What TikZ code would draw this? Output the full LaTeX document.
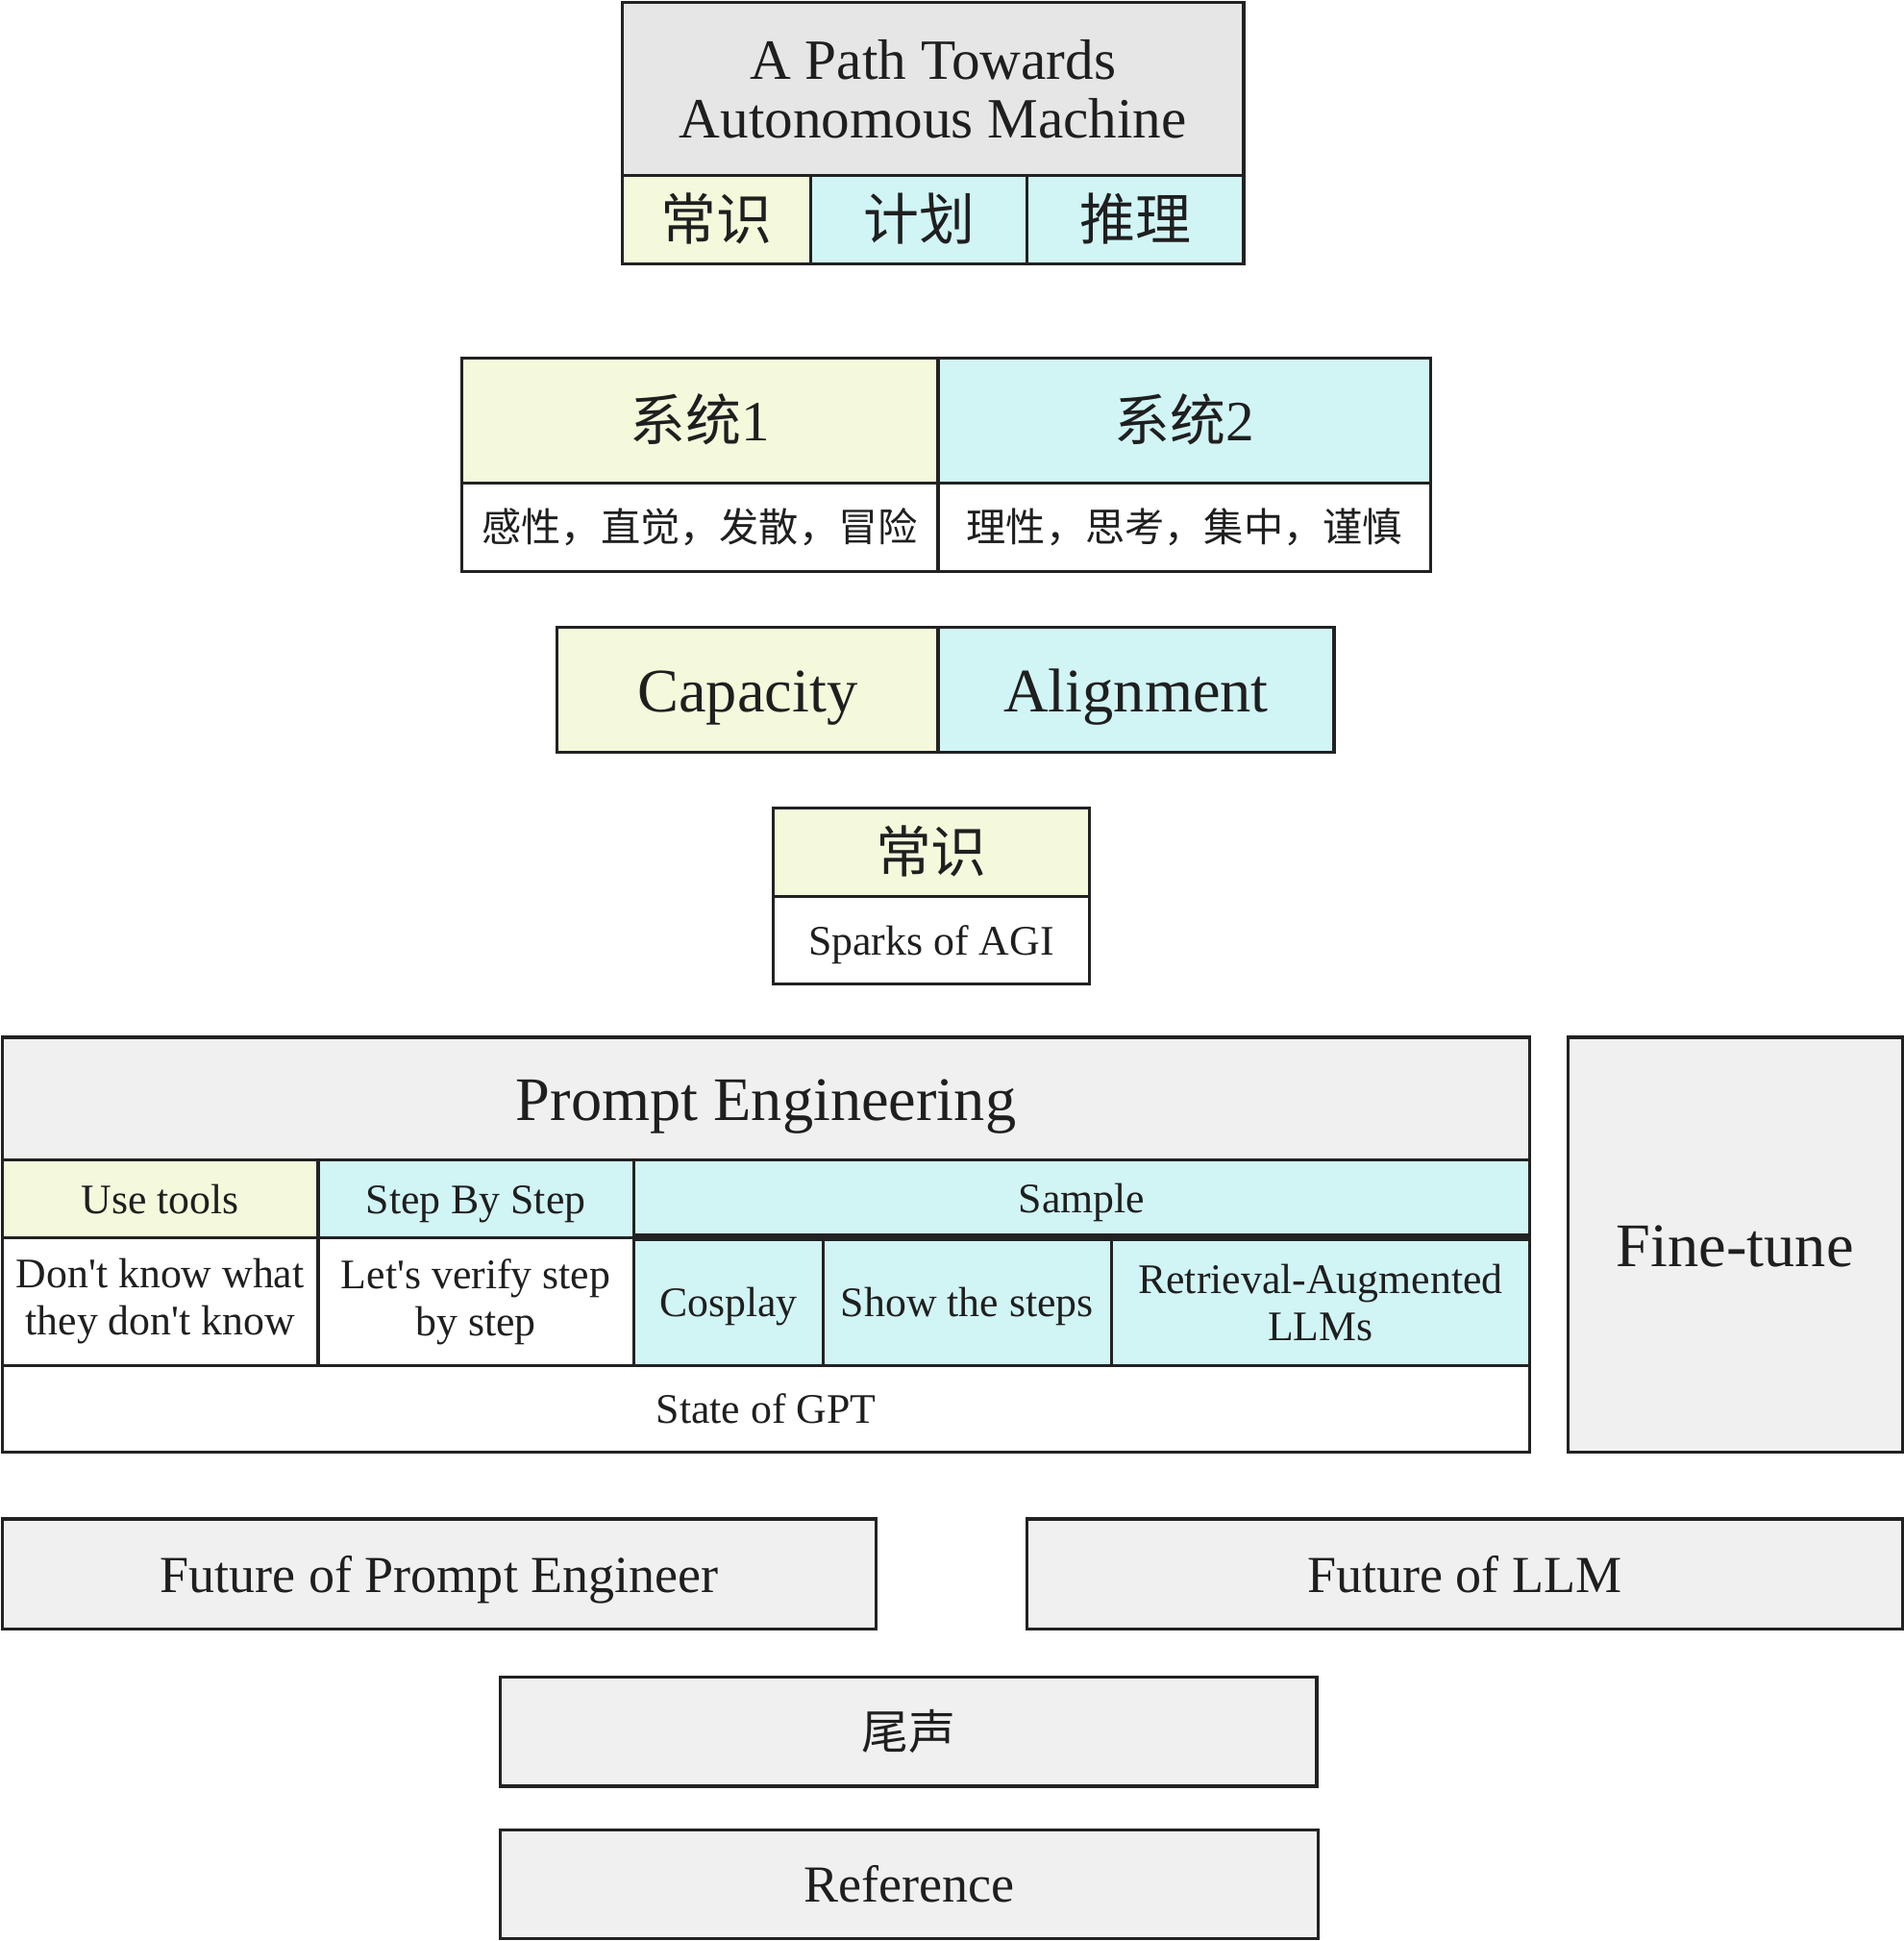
\documentclass[tikz,border=0pt]{standalone}
\usepackage{fontspec}
\setmainfont{Liberation Serif}
\newfontfamily\cjk{Noto Sans CJK SC}
\definecolor{bd}{HTML}{222222}
\definecolor{ylw}{HTML}{F5F9DC}
\definecolor{cyn}{HTML}{D1F4F5}
\definecolor{grA}{HTML}{E6E6E6}
\definecolor{grB}{HTML}{F0F0F0}
\newcommand\cellbox[7]{%
  \pgfmathsetmacro\cx{(#2+#4)/2}%
  \pgfmathsetmacro\cy{(#3+#5)/2}%
  \pgfmathsetmacro\cw{#4-#2}%
  \pgfmathsetmacro\ch{#5-#3}%
  \node[cellbx,#6,minimum width=\cw pt,minimum height=\ch pt] (#1) at (\cx,\cy) {#7};}
\begin{document}
\begin{tikzpicture}[x=1pt,y=-1pt,
  cellbx/.style={draw=bd,line width=2.5pt,inner sep=0pt,text=black!88},
  multi/.style={align=center},
  fSmall/.style={font=\fontsize{34}{38}\selectfont},
  fTitle/.style={font=\fontsize{46}{48}\selectfont},
  sSmall/.style={font=\fontsize{34}{38}\selectfont,text height=30.6pt,text depth=6.8pt},
  sMid/.style={font=\fontsize{42}{46}\selectfont,text height=37.8pt,text depth=8.4pt},
  sLarge/.style={font=\fontsize{50}{56}\selectfont,text height=45pt,text depth=10pt},
  cSmall/.style={font=\cjk\fontsize{32}{36}\selectfont,text height=28.2pt,text depth=4.6pt},
  cMid/.style={font=\cjk\fontsize{38}{42}\selectfont,text height=33.4pt,text depth=5.6pt},
  cLarge/.style={font=\cjk\fontsize{45}{50}\selectfont,text height=39.6pt,text depth=6.6pt},
  fillY/.style={fill=ylw}, fillC/.style={fill=cyn}, fillW/.style={fill=white},
  fillGA/.style={fill=grA}, fillGB/.style={fill=grB}]
\useasboundingbox (0,0) rectangle (1538,1568);
% top block
\cellbox{title}{503}{2}{1005}{142}{fillGA,fTitle,multi}{A Path Towards\\Autonomous Machine}
\cellbox{tA}{503}{142}{655}{213}{fillY,cLarge}{常识}
\cellbox{tB}{655}{142}{830}{213}{fillC,cLarge}{计划}
\cellbox{tC}{830}{142}{1005}{213}{fillC,cLarge}{推理}
% systems
\cellbox{sysA}{373}{289}{758}{390}{fillY,cLarge}{系统{\rmfamily\fontsize{46}{50}\selectfont 1}}
\cellbox{sysB}{758}{289}{1156}{390}{fillC,cLarge}{系统{\rmfamily\fontsize{46}{50}\selectfont 2}}
\cellbox{sysAd}{373}{390}{758}{462}{fillW,cSmall}{感性，直觉，发散，冒险}
\cellbox{sysBd}{758}{390}{1156}{462}{fillW,cSmall}{理性，思考，集中，谨慎}
% capacity / alignment
\cellbox{cap}{450}{507}{758}{608}{fillY,sLarge}{Capacity}
\cellbox{ali}{758}{507}{1078}{608}{fillC,sLarge}{Alignment}
% common sense
\cellbox{csn}{625}{653}{880}{724}{fillY,cLarge}{常识}
\cellbox{spk}{625}{724}{880}{795}{fillW,sSmall}{Sparks of AGI}
% prompt engineering
\cellbox{pe}{2}{838}{1236}{937}{fillGB,sLarge}{Prompt Engineering}
\cellbox{ut}{2}{937}{257}{1000}{fillY,sSmall}{Use tools}
\cellbox{sbs}{257}{937}{512}{1000}{fillC,sSmall}{Step By Step}
\cellbox{smp}{512}{937}{1236}{998}{fillC,sSmall}{Sample}
\cellbox{dk}{2}{1000}{257}{1103}{fillW,fSmall,multi}{Don\textquotesingle t know what\\they don\textquotesingle t know}
\cellbox{lv}{257}{1000}{512}{1103}{fillW,fSmall,multi}{Let\textquotesingle s verify step\\by step}
\cellbox{cos}{512}{1001}{665}{1103}{fillC,sSmall}{Cosplay}
\cellbox{sts}{665}{1001}{898}{1103}{fillC,sSmall}{Show the steps}
\cellbox{rag}{898}{1001}{1236}{1103}{fillC,fSmall,multi}{Retrieval-Augmented\\LLMs}
\cellbox{sog}{2}{1103}{1236}{1173}{fillW,sSmall}{State of GPT}
\cellbox{ftn}{1267}{838}{1537}{1173}{fillGB,sLarge}{Fine-tune}
% futures
\cellbox{fpe}{2}{1227}{708}{1316}{fillGB,sMid}{Future of Prompt Engineer}
\cellbox{fllm}{830}{1227}{1537}{1316}{fillGB,sMid}{Future of LLM}
\cellbox{ws}{404}{1355}{1064}{1443}{fillGB,cMid}{尾声}
\cellbox{ref}{404}{1478}{1065}{1566}{fillGB,sMid}{Reference}
\end{tikzpicture}
\end{document}
